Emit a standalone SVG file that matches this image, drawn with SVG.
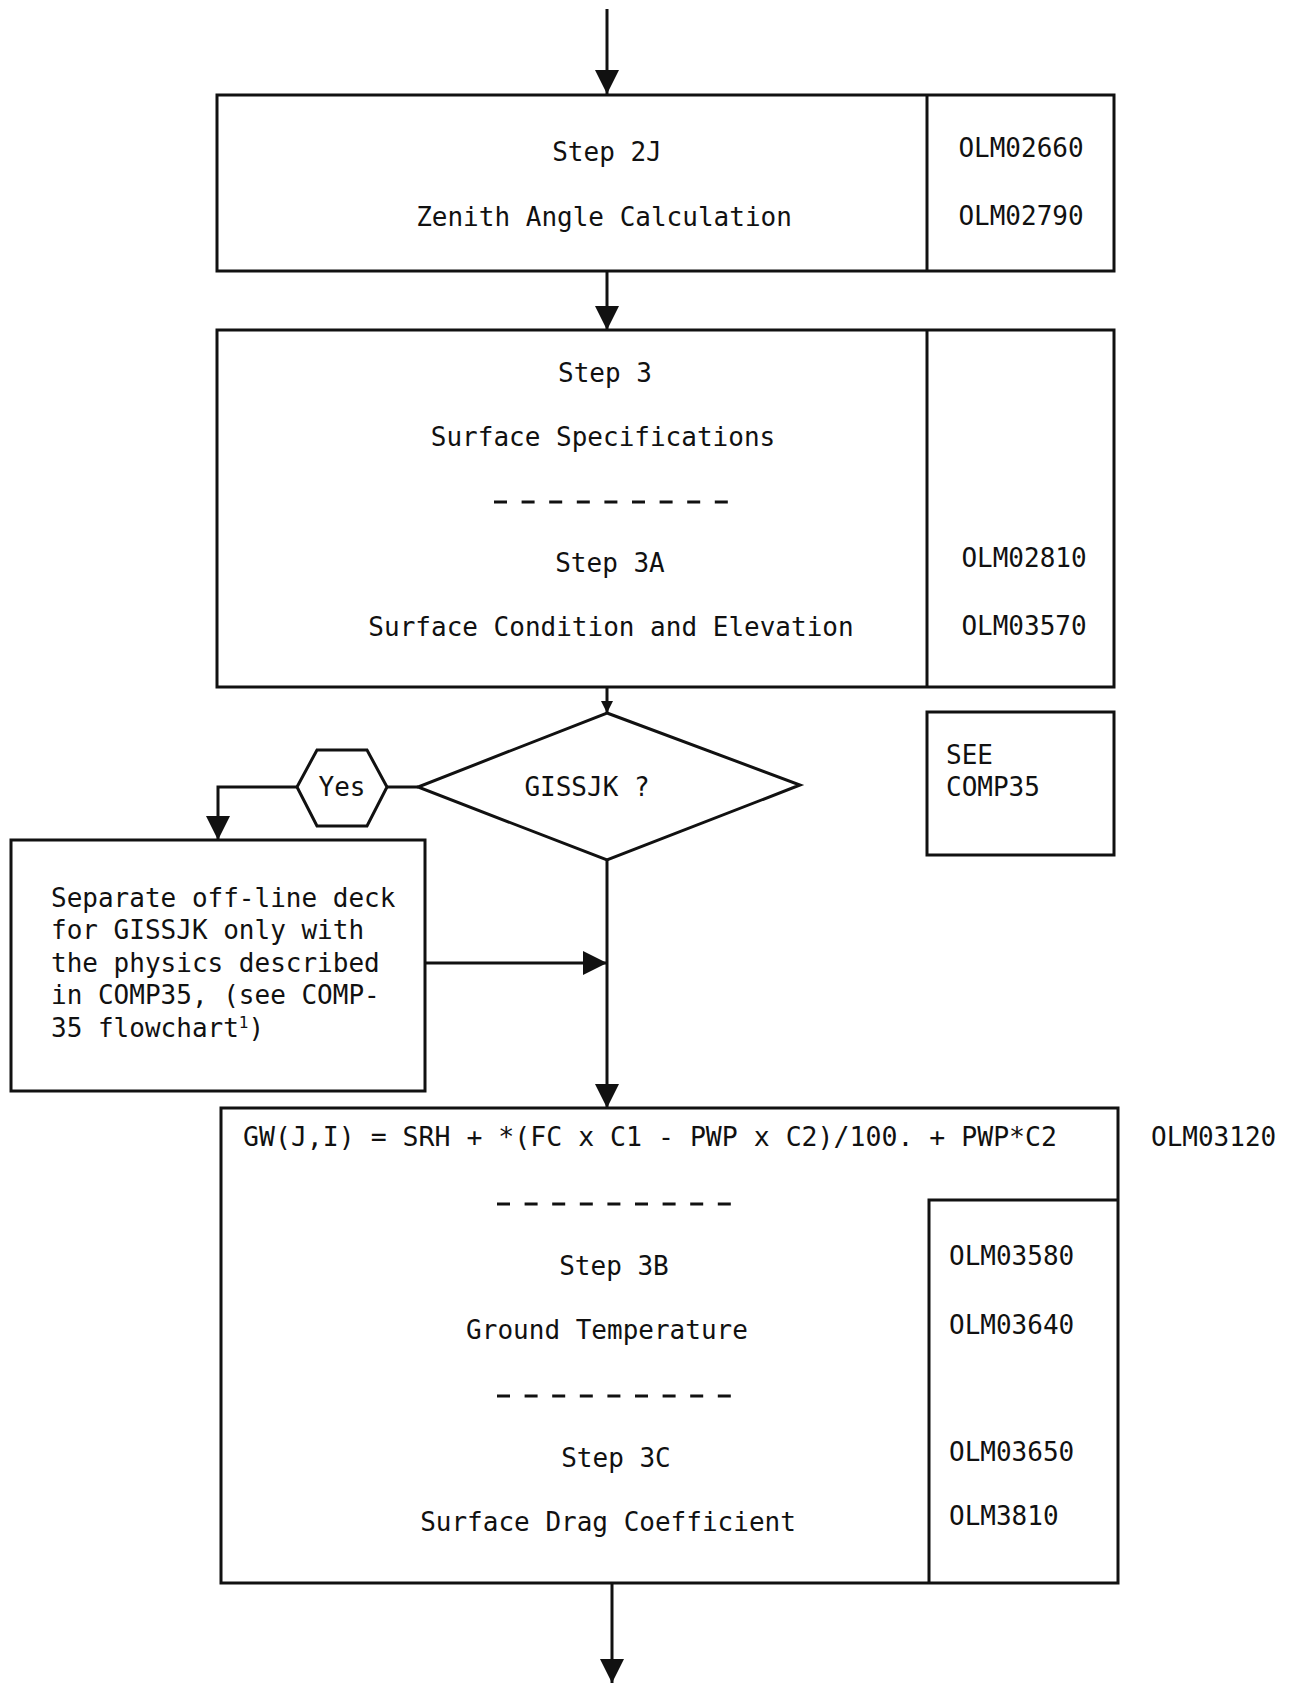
<svg xmlns="http://www.w3.org/2000/svg" width="1290" height="1683" viewBox="0 0 1290 1683">
<style>
.box{fill:none;stroke:#111;stroke-width:3}
.t{font-family:"DejaVu Sans Mono","Liberation Mono",monospace;font-size:26px;fill:#111}
.c{text-anchor:middle}
.conn{stroke:#111;stroke-width:3;fill:none}
.dash{stroke:#111;stroke-width:3;stroke-dasharray:13 14.6}
</style>
<defs>
<marker id="arr" markerUnits="userSpaceOnUse" markerWidth="24" markerHeight="24" refX="24" refY="12" orient="auto">
<path d="M0,0 L24,12 L0,24 z" fill="#111"/>
</marker>
<marker id="arrs" markerUnits="userSpaceOnUse" markerWidth="12" markerHeight="12" refX="12" refY="6" orient="auto">
<path d="M0,0 L12,6 L0,12 z" fill="#111"/>
</marker>
</defs>
<rect width="1290" height="1683" fill="#fff"/>

<g id="connectors">
<line class="conn" x1="607" y1="9" x2="607" y2="94" marker-end="url(#arr)"/>
<line class="conn" x1="607" y1="271" x2="607" y2="330" marker-end="url(#arr)"/>
<line class="conn" x1="607" y1="687" x2="607" y2="713" marker-end="url(#arrs)"/>
<line class="conn" x1="387" y1="787" x2="418" y2="787"/>
<polyline class="conn" points="297,787 218,787 218,840" marker-end="url(#arr)"/>
<line class="conn" x1="607" y1="860" x2="607" y2="1108" marker-end="url(#arr)"/>
<line class="conn" x1="425" y1="963" x2="607" y2="963" marker-end="url(#arr)"/>
<line class="conn" x1="612" y1="1583" x2="612" y2="1683" marker-end="url(#arr)"/>
</g>

<g id="step2j">
<rect class="box" x="217" y="95" width="897" height="176"/>
<line class="box" x1="927" y1="95" x2="927" y2="271"/>
<text class="t c" x="607" y="161">Step 2J</text>
<text class="t c" x="604" y="226">Zenith Angle Calculation</text>
<text class="t c" x="1021" y="157">OLM02660</text>
<text class="t c" x="1021" y="225">OLM02790</text>
</g>

<g id="step3">
<rect class="box" x="217" y="330" width="897" height="357"/>
<line class="box" x1="927" y1="330" x2="927" y2="687"/>
<text class="t c" x="605" y="382">Step 3</text>
<text class="t c" x="603" y="446">Surface Specifications</text>
<line class="dash" x1="494" y1="502" x2="728" y2="502"/>
<text class="t c" x="610" y="572">Step 3A</text>
<text class="t c" x="611" y="636">Surface Condition and Elevation</text>
<text class="t c" x="1024" y="567">OLM02810</text>
<text class="t c" x="1024" y="635">OLM03570</text>
</g>

<g id="decision">
<polygon class="box" points="607,713 800,785 607,860 418,787"/>
<text class="t c" x="587" y="796">GISSJK ?</text>
</g>

<g id="yes">
<polygon class="box" points="297,787 317,750 367,750 387,787 367,826 317,826"/>
<text class="t c" x="342" y="796">Yes</text>
</g>

<g id="seecomp">
<rect class="box" x="927" y="712" width="187" height="143"/>
<text class="t" x="946" y="764">SEE</text>
<text class="t" x="946" y="796">COMP35</text>
</g>

<g id="offline">
<rect class="box" x="11" y="840" width="414" height="251"/>
<text class="t" x="51" y="907">Separate off-line deck</text>
<text class="t" x="51" y="939">for GISSJK only with</text>
<text class="t" x="51" y="972">the physics described</text>
<text class="t" x="51" y="1004">in COMP35, (see COMP-</text>
<text class="t" x="51" y="1037">35 flowchart<tspan font-size="16" baseline-shift="super">1</tspan>)</text>
</g>

<g id="step3bc">
<rect class="box" x="221" y="1108" width="897" height="475"/>
<polyline class="box" points="1118,1200 929,1200 929,1583"/>
<text class="t" x="243" y="1146" textLength="814" lengthAdjust="spacingAndGlyphs">GW(J,I) = SRH + *(FC x C1 - PWP x C2)/100. + PWP*C2</text>
<text class="t" x="1151" y="1146">OLM03120</text>
<line class="dash" x1="497" y1="1204" x2="731" y2="1204"/>
<text class="t c" x="614" y="1275">Step 3B</text>
<text class="t c" x="607" y="1339">Ground Temperature</text>
<line class="dash" x1="497" y1="1396" x2="731" y2="1396"/>
<text class="t c" x="616" y="1467">Step 3C</text>
<text class="t c" x="608" y="1531">Surface Drag Coefficient</text>
<text class="t" x="949" y="1265">OLM03580</text>
<text class="t" x="949" y="1334">OLM03640</text>
<text class="t" x="949" y="1461">OLM03650</text>
<text class="t" x="949" y="1525">OLM3810</text>
</g>
</svg>
